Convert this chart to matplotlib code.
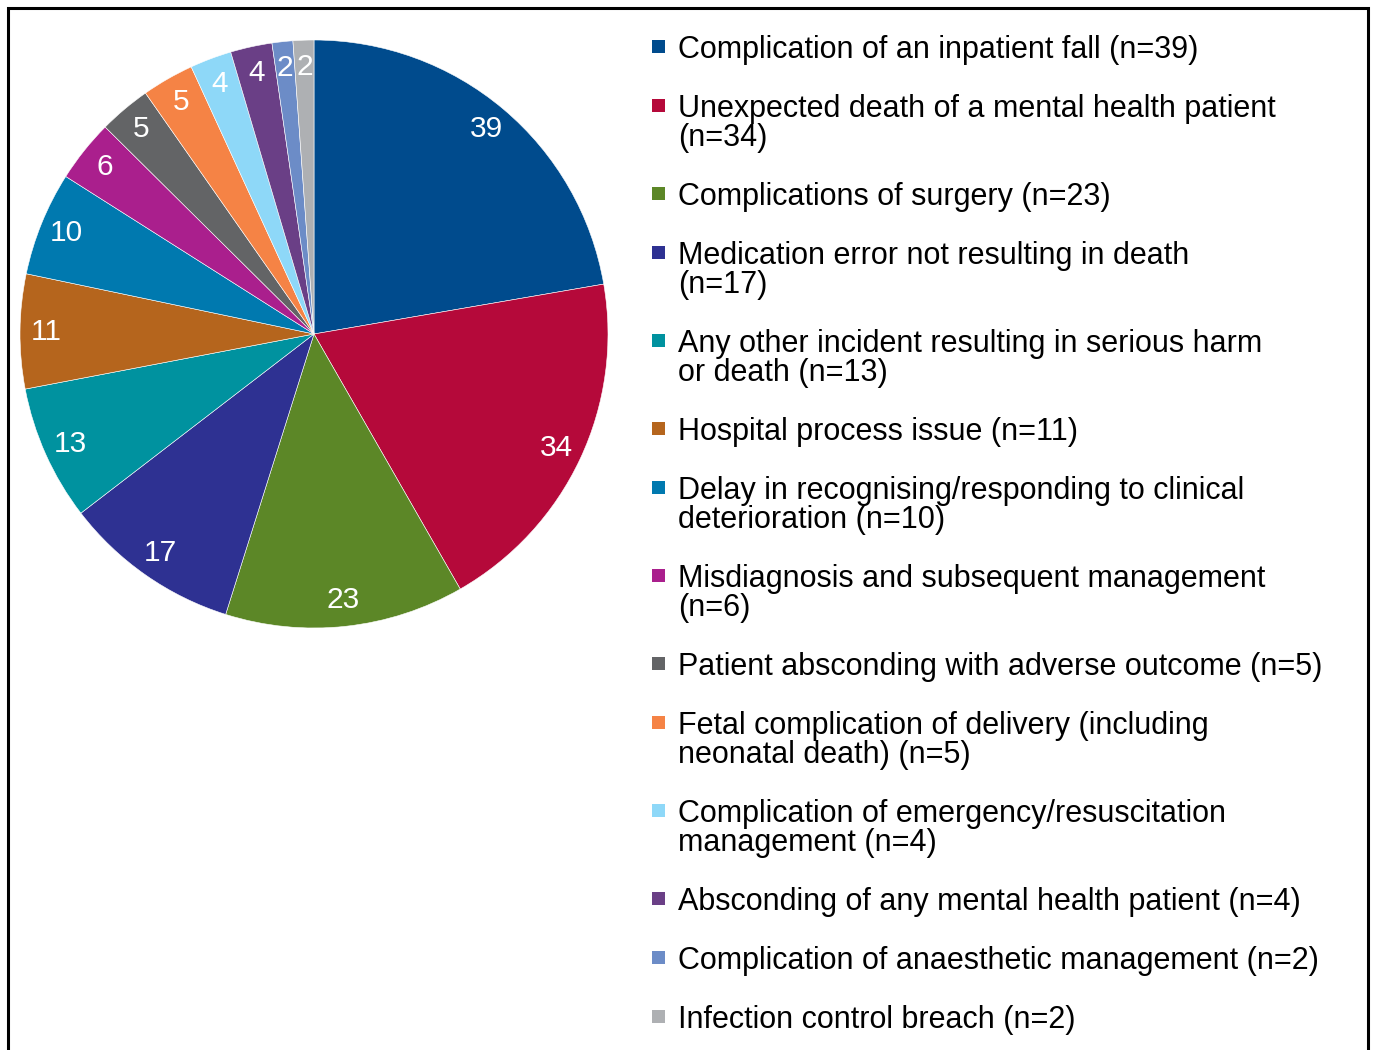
import matplotlib.pyplot as plt
from matplotlib.patches import Rectangle

plt.rcParams['font.family'] = ['Liberation Sans', 'DejaVu Sans']

# data
categories = [
    "Complication of an inpatient fall (n=39)",
    "Unexpected death of a mental health patient\n(n=34)",
    "Complications of surgery (n=23)",
    "Medication error not resulting in death\n(n=17)",
    "Any other incident resulting in serious harm\nor death (n=13)",
    "Hospital process issue (n=11)",
    "Delay in recognising/responding to clinical\ndeterioration (n=10)",
    "Misdiagnosis and subsequent management\n(n=6)",
    "Patient absconding with adverse outcome (n=5)",
    "Fetal complication of delivery (including\nneonatal death) (n=5)",
    "Complication of emergency/resuscitation\nmanagement (n=4)",
    "Absconding of any mental health patient (n=4)",
    "Complication of anaesthetic management (n=2)",
    "Infection control breach (n=2)",
]
counts = [39, 34, 23, 17, 13, 11, 10, 6, 5, 5, 4, 4, 2, 2]
colours = ['#004B8D', '#B5093A', '#5C8727', '#2E3192', '#00929F', '#B5651D',
           '#0079AF', '#AA1F8D', '#636466', '#F58345', '#8ED8F8', '#6A3F86',
           '#6C8CC7', '#AEB0B3']

W, H = 1375, 1050
fig = plt.figure(figsize=(W / 100, H / 100), dpi=100)

# frame around the figure (bottom edge is cut off in the original)
fig.patches.append(Rectangle((8 / W, -0.05), 1360 / W, 1.05 - 8 / H,
                             transform=fig.transFigure, fill=False,
                             edgecolor='black', linewidth=2.2))

# pie
cx, cy, r = 314, 334, 294
ax = fig.add_axes([(cx - r) / W, (H - cy - r) / H, 2 * r / W, 2 * r / H])
total = sum(counts)
ax.pie(counts, colors=colours, startangle=90, counterclock=False,
       radius=1, autopct=lambda p: f"{round(p * total / 100):d}",
       pctdistance=0.91,
       wedgeprops=dict(edgecolor='white', linewidth=0.4),
       textprops=dict(color='white', fontsize=21.5))
ax.set_xlim(-1, 1)
ax.set_ylim(-1, 1)
ax.set_aspect('equal')
ax.axis('off')

# legend drawn by hand so the marker sits on the first line
y = 58
for lab, col in zip(categories, colours):
    lines = lab.split("\n")
    fig.patches.append(Rectangle((652 / W, 1 - (y - 5) / H), 13 / W, 13 / H,
                                 transform=fig.transFigure, facecolor=col,
                                 edgecolor='none'))
    for k, ln in enumerate(lines):
        fig.text(678 / W, 1 - (y + 29 * k) / H, ln, fontsize=22,
                 color='black', ha='left', va='baseline')
    y += 59 + 29 * (len(lines) - 1)

fig.savefig('out.png', dpi=100)
